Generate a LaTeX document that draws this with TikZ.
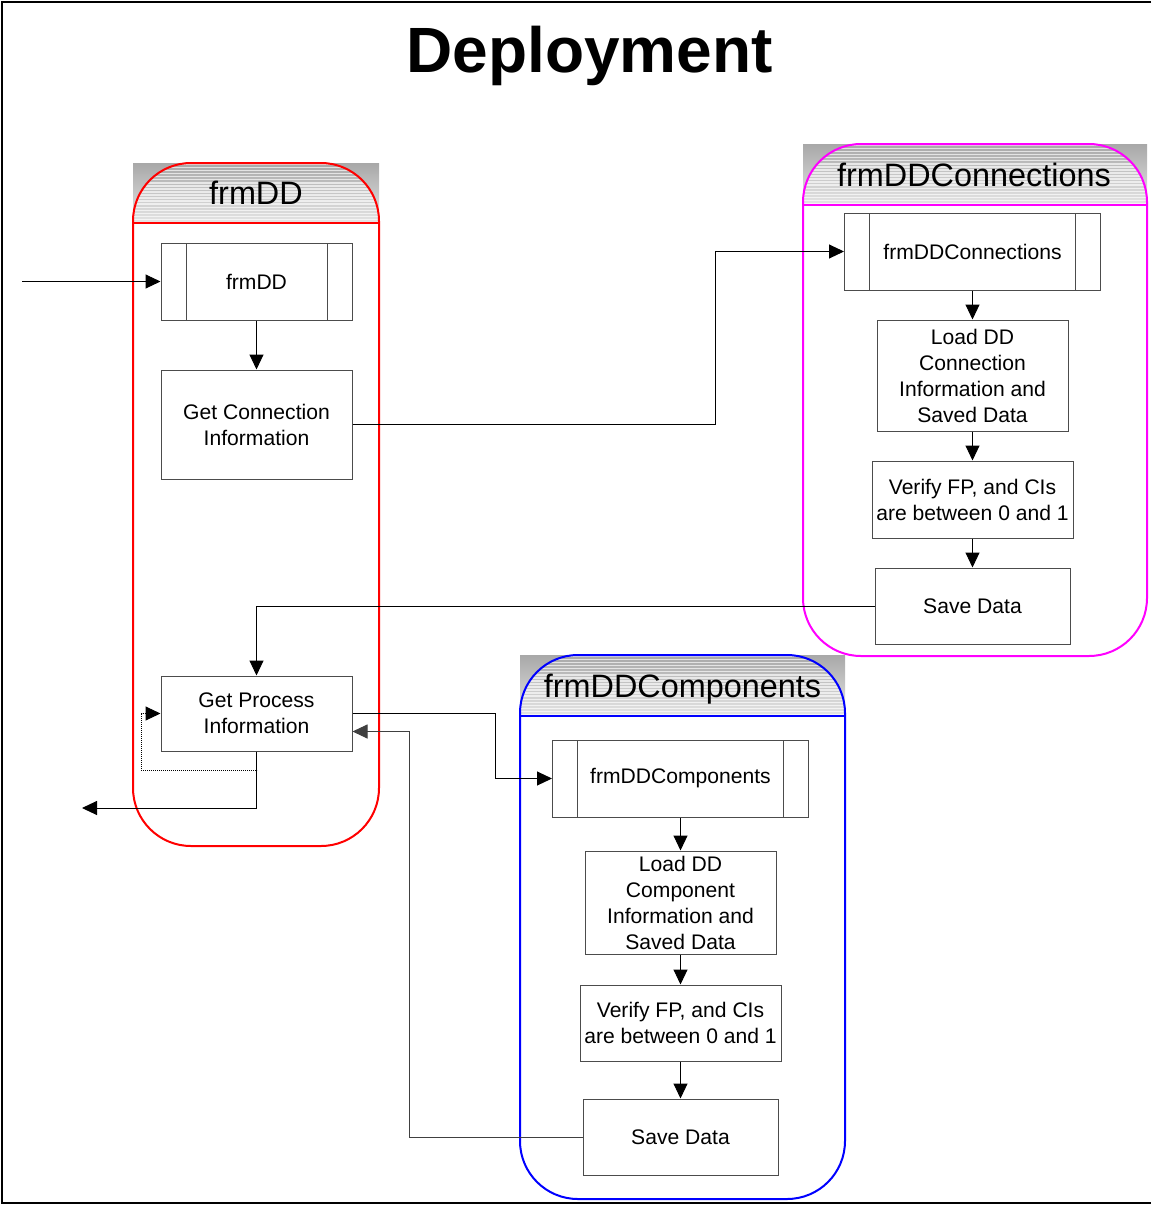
\documentclass[tikz,border=0pt]{standalone}
\usepackage{fontspec}
\setmainfont{Liberation Sans}
\usetikzlibrary{arrows.meta,calc}

\definecolor{lanered}{RGB}{255,0,0}
\definecolor{lanemagenta}{RGB}{255,0,255}
\definecolor{laneblue}{RGB}{0,0,255}

\tikzset{
  stepbox/.style={draw=black!70, line width=1pt, fill=white, inner sep=0pt,
    align=center, font=\fontsize{21.1}{26}\selectfont},
  subbox/.style={stepbox, path picture={
    \draw[black!70, line width=1pt]
      ([xshift=25pt]path picture bounding box.north west) -- ([xshift=25pt]path picture bounding box.south west)
      ([xshift=-25pt]path picture bounding box.north east) -- ([xshift=-25pt]path picture bounding box.south east);}},
  flow/.style={draw=black, line width=1pt, -{Triangle[length=15pt,width=14pt]}},
  lanetitle/.style={font=\fontsize{32.4}{36}\selectfont, anchor=base, inner sep=0pt},
}

% swimlane: x1, y1, x2, y2, header bottom, colour
\newcommand\swimlane[6]{%
  \shade[top color=black!34, bottom color=black!10] (#1,#2) rectangle (#3,#5);
  \begin{scope}
    \clip[rounded corners=58pt] (#1,#2) rectangle (#3,#4);
    \foreach \k in {0,...,19}{
      \draw[white, opacity=0.65, line width=1.4pt] (#1,{#2+1.5+3.05*\k}) -- (#3,{#2+1.5+3.05*\k});
    }
  \end{scope}
  \draw[#6, line width=2pt, rounded corners=58pt] (#1,#2) rectangle (#3,#4);
  \draw[#6, line width=2pt] (#1,#5) -- (#3,#5);
}

\begin{document}
\begin{tikzpicture}[x=1pt, y=-1pt]
\useasboundingbox (0,0) rectangle (1152,1205);

% frame
\draw[line width=2pt] (1151,2) -- (2,2) -- (2,1203) -- (1151,1203);

% title
\node[font=\bfseries\fontsize{64}{70}\selectfont, anchor=base, inner sep=0pt] (title) at (589.5,72) {Deployment};

% swimlanes
\swimlane{133}{163}{379}{846}{223}{lanered}
\swimlane{803}{144}{1147}{656}{205}{lanemagenta}
\swimlane{520}{655}{845}{1199}{716}{laneblue}

\node[lanetitle] (lane1) at (256,204) {frmDD};
\node[lanetitle] (lane2) at (974,186) {frmDDConnections};
\node[lanetitle] (lane3) at (682.5,697) {frmDDComponents};

% frmDD lane
\node[subbox, minimum width=191, minimum height=77] (frmdd) at (256.5,281.5) {frmDD};
\node[stepbox, minimum width=191, minimum height=109] (gci) at (256.5,424.5) {Get Connection\\Information};
\node[stepbox, minimum width=191, minimum height=75] (gpi) at (256.5,713.5) {Get Process\\Information};

% frmDDConnections lane
\node[subbox, minimum width=256, minimum height=77] (fconn) at (972.5,251.5) {frmDDConnections};
\node[stepbox, minimum width=191, minimum height=111] (loadc) at (972.5,375.5) {Load DD\\Connection\\Information and\\Saved Data};
\node[stepbox, minimum width=201, minimum height=77] (verc) at (972.5,499.5) {Verify FP, and CIs\\are between 0 and 1};
\node[stepbox, minimum width=195, minimum height=76] (savec) at (972.5,606) {Save Data};

% frmDDComponents lane
\node[subbox, minimum width=256, minimum height=77] (fcomp) at (680.5,778.5) {frmDDComponents};
\node[stepbox, minimum width=191, minimum height=103] (loadp) at (680.5,902.5) {Load DD\\Component\\Information and\\Saved Data};
\node[stepbox, minimum width=201, minimum height=76] (verp) at (680.5,1023) {Verify FP, and CIs\\are between 0 and 1};
\node[stepbox, minimum width=195, minimum height=76] (savep) at (680.5,1137) {Save Data};

% free ends
\coordinate (entry) at (22,281.5);
\coordinate (exit) at (82,808);

% connectors
\draw[flow] (entry) -- (frmdd.west);
\draw[flow] (frmdd.south) -- (gci.north);
\draw[flow] (gci.east) -- ++(363,0) |- (fconn.west);
\draw[flow] (fconn.south) -- (loadc.north);
\draw[flow] (loadc.south) -- (verc.north);
\draw[flow] (verc.south) -- (savec.north);
\draw[flow] (savec.west) -| (gpi.north);
\draw[flow] (gpi.east) -- ++(143,0) |- (fcomp.west);
\draw[flow] (fcomp.south) -- (loadp.north);
\draw[flow] (loadp.south) -- (verp.north);
\draw[flow] (verp.south) -- (savep.north);
\draw[flow, draw=black!75] (savep.west) -- ++(-173,0) |- ($(gpi.east)+(0,18)$);
\draw[flow, densely dotted] (gpi.south) -- ++(0,19) -| ($(gpi.west)+(-19,0)$) -- (gpi.west);
\draw[flow] (gpi.south) |- (exit);
\end{tikzpicture}
\end{document}
